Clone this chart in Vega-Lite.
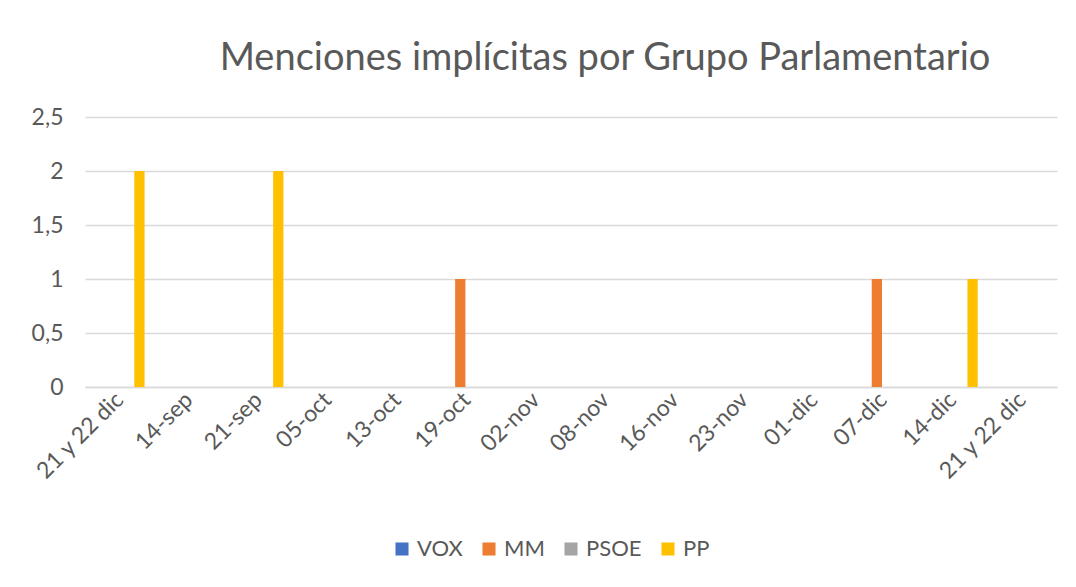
{
  "$schema": "https://vega.github.io/schema/vega-lite/v6.json",
  "autosize": {"type": "none"},
  "width": 972,
  "height": 270,
  "padding": {"left": 85, "top": 117, "right": 19, "bottom": 200},
  "background": "white",
  "data": {
    "values": [
      {"fecha": "21 y 22 dic", "VOX": 0, "MM": 0, "PSOE": 0, "PP": 2},
      {"fecha": "14-sep", "VOX": 0, "MM": 0, "PSOE": 0, "PP": 0},
      {"fecha": "21-sep", "VOX": 0, "MM": 0, "PSOE": 0, "PP": 2},
      {"fecha": "05-oct", "VOX": 0, "MM": 0, "PSOE": 0, "PP": 0},
      {"fecha": "13-oct", "VOX": 0, "MM": 0, "PSOE": 0, "PP": 0},
      {"fecha": "19-oct", "VOX": 0, "MM": 1, "PSOE": 0, "PP": 0},
      {"fecha": "02-nov", "VOX": 0, "MM": 0, "PSOE": 0, "PP": 0},
      {"fecha": "08-nov", "VOX": 0, "MM": 0, "PSOE": 0, "PP": 0},
      {"fecha": "16-nov", "VOX": 0, "MM": 0, "PSOE": 0, "PP": 0},
      {"fecha": "23-nov", "VOX": 0, "MM": 0, "PSOE": 0, "PP": 0},
      {"fecha": "01-dic", "VOX": 0, "MM": 0, "PSOE": 0, "PP": 0},
      {"fecha": "07-dic", "VOX": 0, "MM": 1, "PSOE": 0, "PP": 0},
      {"fecha": "14-dic", "VOX": 0, "MM": 0, "PSOE": 0, "PP": 1},
      {"fecha": "21 y 22 dic ", "VOX": 0, "MM": 0, "PSOE": 0, "PP": 0}
    ]
  },
  "transform": [
    {"fold": ["VOX", "MM", "PSOE", "PP"], "as": ["grupo", "menciones"]}
  ],
  "title": {
    "text": "Menciones implícitas por Grupo Parlamentario",
    "font": "Lato",
    "fontSize": 38,
    "fontWeight": "normal",
    "color": "#595959",
    "anchor": "middle",
    "dx": 34,
    "offset": 28
  },
  "mark": {"type": "bar"},
  "encoding": {
    "x": {
      "field": "fecha",
      "type": "nominal",
      "sort": null,
      "scale": {"paddingInner": 0, "paddingOuter": 0},
      "axis": {
        "title": null,
        "labelAngle": -45,
        "labelAlign": "right",
        "labelBaseline": "middle",
        "labelPadding": 9,
        "labelFont": "Lato",
        "labelFontSize": 23,
        "labelColor": "#595959",
        "ticks": false,
        "domain": true,
        "domainColor": "#D9D9D9",
        "domainWidth": 1.5,
        "grid": false
      }
    },
    "xOffset": {
      "field": "grupo",
      "type": "nominal",
      "sort": ["VOX", "MM", "PSOE", "PP"],
      "scale": {"paddingInner": 0.22, "paddingOuter": 0.75}
    },
    "y": {
      "field": "menciones",
      "type": "quantitative",
      "scale": {"domain": [0, 2.5], "nice": false},
      "axis": {
        "title": null,
        "values": [0, 0.5, 1, 1.5, 2, 2.5],
        "labelExpr": "replace(toString(datum.value), '.', ',')",
        "labelFont": "Lato",
        "labelFontSize": 23,
        "labelColor": "#595959",
        "labelPadding": 22,
        "ticks": false,
        "domain": false,
        "grid": true,
        "gridColor": "#D9D9D9",
        "gridWidth": 1.5
      }
    },
    "color": {
      "field": "grupo",
      "type": "nominal",
      "sort": ["VOX", "MM", "PSOE", "PP"],
      "scale": {
        "domain": ["VOX", "MM", "PSOE", "PP"],
        "range": ["#4472C4", "#ED7D31", "#A5A5A5", "#FFC000"]
      },
      "legend": {
        "title": null,
        "orient": "none",
        "direction": "horizontal",
        "legendX": 306,
        "legendY": 421,
        "symbolType": "square",
        "symbolSize": 170,
        "symbolStrokeWidth": 0,
        "labelFont": "Lato",
        "labelFontSize": 22,
        "labelColor": "#595959",
        "columnPadding": 15,
        "labelOffset": 4
      }
    }
  },
  "config": {
    "view": {"stroke": null}
  }
}
